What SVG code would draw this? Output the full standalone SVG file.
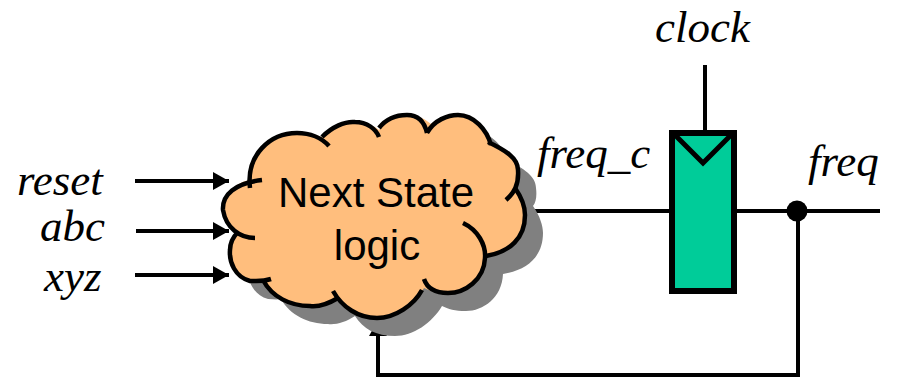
<svg xmlns="http://www.w3.org/2000/svg" width="900" height="377" viewBox="0 0 900 377">
<defs>
<path id="cloud" d="M249 180 C246 155 270 133 297 133 C308 133 317 135 322 137 C332 127 345 121 355 122 C367 122 376 127 379 130 C386 119 397 115 407 115 C416 115 424 118 431 124 C438 118 448 115 458 115 C474 115 485 128 489 142 C505 150 518 158 518 170 C519 178 518 184 515 188 C522 198 525 208 525 215 C525 238 510 252 485 256 C484 280 465 293 448 293 C437 293 430 291 424 288 C414 305 395 318 377 318 C358 318 345 311 337 298 C328 304 318 307 310 306 C290 306 272 297 263 281 C258 282 254 281 250 281 C235 277 229 262 230 250 C230 244 233 237 238 232 C226 228 223 218 223 210 C222 195 235 183 249 180 Z"/>
<marker id="arrow" markerUnits="userSpaceOnUse" markerWidth="17" markerHeight="18" refX="16" refY="9" orient="auto"><path d="M0 0 L16 9 L0 18 Z" fill="#000"/></marker>
</defs>
<style>
.wire{fill:none;stroke:#000;stroke-width:4}
.lobe{fill:none;stroke:#000;stroke-width:4.5}
.it{font-family:"Liberation Serif","Times New Roman",serif;font-style:italic;font-size:45px;fill:#000}
.sans{font-family:"Liberation Sans",Arial,sans-serif;font-size:42px;fill:#000;text-anchor:middle}
</style>
<rect width="900" height="377" fill="#fff"/>
<g id="connectors">
<path class="wire" d="M135 181H229" marker-end="url(#arrow)"/>
<path class="wire" d="M136 231H229" marker-end="url(#arrow)"/>
<path class="wire" d="M135 275H229" marker-end="url(#arrow)"/>
<path class="wire" d="M525 211H880"/>
<path class="wire" d="M705 65V131"/>
<path class="wire" d="M798 211V375H378V320" marker-end="url(#arrow)"/>
<circle cx="797" cy="211" r="10.5" fill="#000"/>
</g>
<g id="next-state">
<use href="#cloud" x="18" y="18" fill="#808080"/>
<use href="#cloud" fill="#ffbe7d"/>
<path class="lobe" d="M250 188 C246 155 270 133 297 133 C310 133 322 138 329 146"/>
<path class="lobe" d="M322 137 C332 127 345 121 355 122 C367 122 376 129 379 137"/>
<path class="lobe" d="M379 128 C386 119 397 115 407 115 C416 115 424 120 427 133"/>
<path class="lobe" d="M427 133 C434 120 448 115 458 115 C474 115 487 130 491 145"/>
<path class="lobe" d="M488 142 C505 150 518 158 518 170 C519 185 514 193 506 200"/>
<path class="lobe" d="M515 188 C522 198 525 208 525 215 C525 238 510 252 486 256"/>
<path class="lobe" d="M463 223 C478 230 486 245 485 258 C484 280 465 293 448 293 C435 293 427 288 424 279"/>
<path class="lobe" d="M422 290 C414 305 395 318 377 318 C358 318 342 307 333 291"/>
<path class="lobe" d="M338 298 C328 304 318 307 310 306 C290 306 272 297 263 280"/>
<path class="lobe" d="M271 279 C262 282 256 281 250 281 C235 277 229 262 230 250 C230 244 233 237 238 232"/>
<path class="lobe" d="M255 238 C240 238 226 228 223 210 C222 195 235 183 262 180"/>
<text class="sans" x="376" y="207">Next State</text>
<text class="sans" x="377" y="260">logic</text>
</g>
<g id="register">
<rect x="672" y="133" width="62" height="158" fill="#00cc99" stroke="#000" stroke-width="6"/>
<path d="M673 133 L703 163 L733 133" fill="none" stroke="#000" stroke-width="5"/>
</g>
<g id="labels">
<text class="it" x="17" y="195">reset</text>
<text class="it" x="40" y="241">abc</text>
<text class="it" x="44" y="291">xyz</text>
<text class="it" x="655" y="42">clock</text>
<text class="it" x="537" y="168">freq_c</text>
<text class="it" x="808" y="176">freq</text>
</g>
</svg>
